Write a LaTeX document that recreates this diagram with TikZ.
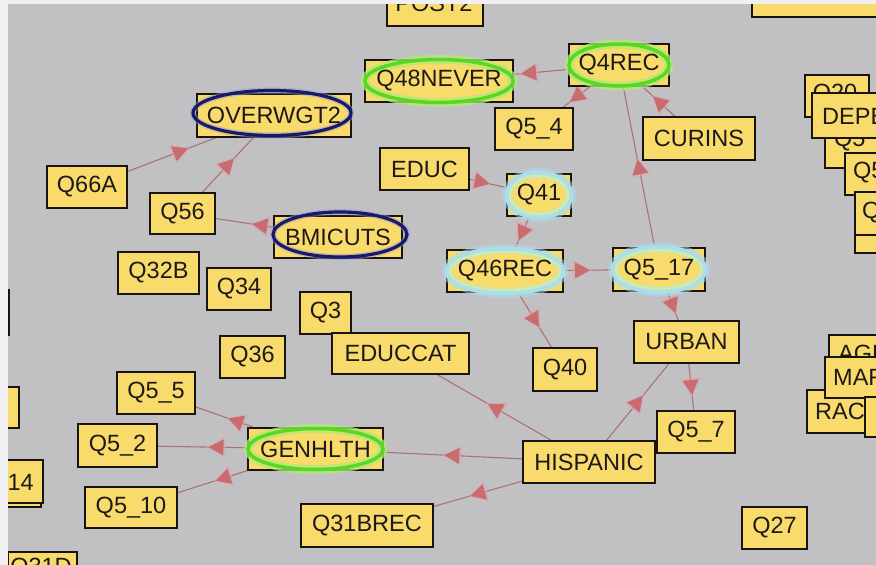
\documentclass[tikz,border=0pt]{standalone}
\usepackage{fontspec}
\setmainfont{Liberation Sans}
\usetikzlibrary{decorations.markings}
\pgfdeclarelayer{bg}
\pgfdeclarelayer{edges}
\pgfsetlayers{bg,edges,main}

\definecolor{bggray}{RGB}{193,193,196}
\definecolor{framewhite}{RGB}{240,240,242}
\definecolor{boxfill}{RGB}{249,219,108}
\definecolor{boxline}{RGB}{25,20,15}
\definecolor{edgecol}{RGB}{172,112,118}
\definecolor{arrowcol}{RGB}{200,108,112}
\definecolor{arrowhalo}{RGB}{220,165,172}
\definecolor{txtcol}{RGB}{30,25,25}
\definecolor{greenglow}{RGB}{90,215,35}
\definecolor{greenhalo}{RGB}{175,235,120}
\definecolor{cyanhalo}{RGB}{170,222,235}
\definecolor{cyanmid}{RGB}{205,234,175}
\definecolor{navyring}{RGB}{25,25,105}
\definecolor{navyhalo}{RGB}{150,150,205}

\tikzset{
  bx/.style={rectangle, draw=boxline, line width=1.7pt, fill=boxfill, inner sep=0pt},
  lbl/.style={inner sep=0pt, text=txtcol, font=\fontsize{23.5}{26}\selectfont},
  conn/.style={draw=edgecol, line width=1.1pt},
  midhead/.style={decorate, decoration={markings, mark=at position 0.5 with {
      \fill[arrowhalo, opacity=0.6] (10pt,0pt) -- (-9pt,10.5pt) -- (-9pt,-10.5pt) -- cycle;
      \fill[arrowcol] (8pt,0pt) -- (-7pt,8pt) -- (-7pt,-8pt) -- cycle;}}},
}

\newcommand\mkbox[5]{\node[bx, minimum width=#4pt, minimum height=#5pt] (#1) at (#2,#3) {};}
\newcommand\mktext[2]{\node[lbl] (t#1) at (#1) {#2};}
\newcommand\linkab[2]{\draw[conn] (#1) -- (#2); \path[midhead] (#1.center) -- (#2.center);}
\newcommand\greenring[3]{%
  \draw[greenhalo, line width=9pt, opacity=.75] (#1) ellipse [x radius=#2pt, y radius=#3pt];
  \draw[greenglow, line width=3.5pt] (#1) ellipse [x radius=#2pt, y radius=#3pt];}
\newcommand\cyanring[3]{%
  \draw[cyanhalo, line width=10pt, opacity=.5] (#1) ellipse [x radius=#2pt, y radius=#3pt];
  \draw[cyanhalo, line width=5pt] (#1) ellipse [x radius=#2pt, y radius=#3pt];
  \draw[cyanmid, line width=3pt] (#1) ellipse [x radius=#2pt-3pt, y radius=#3pt-3pt];}
\newcommand\navyring[4]{%
  \draw[navyhalo, line width=6pt, opacity=.5] (#1) ellipse [x radius=#3pt, y radius=#4pt];
  \draw[navyring, line width=3.2pt] (#1) ellipse [x radius=#3pt, y radius=#4pt];}

\begin{document}
\begin{tikzpicture}[x=1pt,y=-1pt]
\useasboundingbox (0,0) rectangle (876,565);
\begin{pgfonlayer}{bg}
  \fill[bggray] (0,0) rectangle (876,565);
\end{pgfonlayer}

% ---------- partially visible boxes ----------
\mkbox{post}{435}{5}{96}{42}
\node[lbl] (tpost) at (434,3.5) {POST2};
\mkbox{trbox}{826}{-4}{148}{42}

\mkbox{q20}{837}{96}{64}{42}
\node[lbl] (tq20) at (835,95) {Q20};
\mkbox{q5a}{862.5}{147}{75}{42}
\node[lbl, anchor=west] (tq5a) at (834,141) {Q5};
\mkbox{depe}{856}{115.5}{88}{45}
\node[lbl, anchor=west] (tdepe) at (822,116) {DEPE};
\mkbox{q5b}{872.5}{174}{55}{42}
\node[lbl, anchor=west] (tq5b) at (853,173) {Q5};
\mkbox{qd}{877.5}{243}{45}{20}
\mkbox{qc}{877.5}{213.5}{45}{43}
\node[lbl, anchor=west] (tqc) at (862,213) {Q};

\mkbox{age}{864.5}{356}{71}{42}
\node[lbl, anchor=west] (tage) at (838,353) {AGE};
\mkbox{rac}{848.5}{411.5}{83}{43}
\node[lbl, anchor=west] (trac) at (815,411) {RAC};
\mkbox{mar}{862.5}{377.5}{75}{41}
\node[lbl, anchor=west] (tmar) at (833,377) {MAR};
\mkbox{box4}{882.5}{417}{35}{40}

\mkbox{lefta}{-10.5}{407.5}{59}{41}
\mkbox{leftb}{5.5}{486}{71}{42}
\mkbox{b14}{6.5}{481.5}{73}{43}
\node[lbl, anchor=east] (tb14) at (34,482) {14};
\mkbox{leftc}{-26}{312.5}{70}{45}
\mkbox{q31d}{42.5}{573}{69}{42}
\node[lbl] (tq31d) at (41,569) {Q31D};

% ---------- main nodes ----------
\mkbox{q48never}{439}{81}{148}{42}
\mkbox{q4rec}{619}{65}{100}{42}
\mkbox{q54}{534}{129}{78}{42}
\mkbox{curins}{699}{138.5}{112}{43}
\mkbox{educ}{424.5}{169}{89}{42}
\mkbox{q41}{539}{195}{64}{42}
\mkbox{q46rec}{505}{271}{116}{42}
\mkbox{q517}{659}{269.5}{92}{43}
\mkbox{urban}{686.5}{342}{105}{42}
\mkbox{q40}{565}{369.5}{64}{43}
\mkbox{q57}{696}{432}{78}{42}
\mkbox{hispanic}{589}{462}{132}{42}
\mkbox{q27}{774.5}{528}{65}{42}
\mkbox{overwgt}{274}{115.5}{154}{43}
\mkbox{q66a}{87}{187}{80}{42}
\mkbox{q56}{182.5}{213.5}{65}{41}
\mkbox{bmicuts}{338}{237}{128}{42}
\mkbox{q32b}{158.5}{273}{81}{42}
\mkbox{q34}{239}{289}{64}{42}
\mkbox{q36}{252.5}{357}{65}{42}
\mkbox{q3}{325.5}{313}{51}{42}
\mkbox{educcat}{400.5}{353.5}{137}{41}
\mkbox{q55}{156}{393}{78}{42}
\mkbox{q52}{117.5}{445.5}{79}{43}
\mkbox{genhlth}{315.5}{449}{135}{42}
\mkbox{q510}{131}{507.5}{92}{41}
\mkbox{q31brec}{367}{525.5}{132}{43}

% ---------- rings ----------
\greenring{q48never}{74}{21.5}
\greenring{q4rec}{50}{21}
\greenring{genhlth}{67.5}{20.5}
\cyanring{q41}{32}{22}
\cyanring{q46rec}{58}{22}
\cyanring{q517}{46}{22}
\coordinate (ovc) at (272,113);
\navyring{ovc}{overwgt}{79}{22.5}
\coordinate (bmc) at (340,234.5);
\navyring{bmc}{bmicuts}{67}{22.5}

% ---------- labels ----------
\mktext{q48never}{Q48NEVER}
\mktext{q4rec}{Q4REC}
\mktext{q54}{Q5\_4}
\mktext{curins}{CURINS}
\mktext{educ}{EDUC}
\mktext{q41}{Q41}
\mktext{q46rec}{Q46REC}
\mktext{q517}{Q5\_17}
\mktext{urban}{URBAN}
\mktext{q40}{Q40}
\mktext{q57}{Q5\_7}
\mktext{hispanic}{HISPANIC}
\mktext{q27}{Q27}
\mktext{overwgt}{OVERWGT2}
\mktext{q66a}{Q66A}
\mktext{q56}{Q56}
\mktext{bmicuts}{BMICUTS}
\mktext{q32b}{Q32B}
\mktext{q34}{Q34}
\mktext{q36}{Q36}
\mktext{q3}{Q3}
\mktext{educcat}{EDUCCAT}
\mktext{q55}{Q5\_5}
\mktext{q52}{Q5\_2}
\mktext{genhlth}{GENHLTH}
\mktext{q510}{Q5\_10}
\mktext{q31brec}{Q31BREC}

% ---------- connectors ----------
\begin{pgfonlayer}{edges}
\linkab{q66a}{overwgt}
\linkab{q56}{overwgt}
\linkab{bmicuts}{q56}
\linkab{q4rec}{q48never}
\linkab{q4rec}{q54}
\linkab{curins}{q4rec}
\linkab{q517}{q4rec}
\linkab{educ}{q41}
\linkab{q41}{q46rec}
\linkab{q46rec}{q517}
\linkab{q46rec}{q40}
\linkab{q517}{urban}
\linkab{urban}{q57}
\linkab{hispanic}{urban}
\linkab{hispanic}{educcat}
\linkab{hispanic}{genhlth}
\linkab{hispanic}{q31brec}
\linkab{genhlth}{q55}
\linkab{genhlth}{q52}
\linkab{genhlth}{q510}
\end{pgfonlayer}

% ---------- screenshot frame ----------
\fill[framewhite] (0,0) rectangle (7.5,565);
\fill[framewhite] (0,0) rectangle (876,4);
\end{tikzpicture}
\end{document}
